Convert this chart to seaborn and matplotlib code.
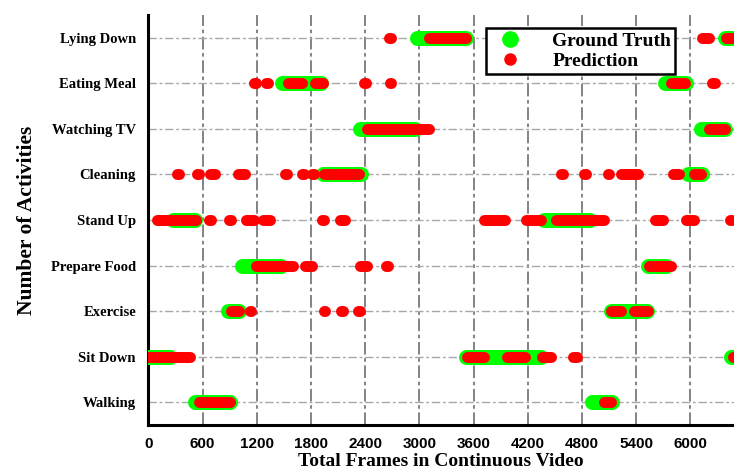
import numpy as np
import pandas as pd
import seaborn as sns
import matplotlib.pyplot as plt
from matplotlib.lines import Line2D
from matplotlib.ticker import MultipleLocator

# activities from bottom (1) to top (9)
activities = ["Walking", "Sit Down", "Exercise", "Prepare Food", "Stand Up",
              "Cleaning", "Watching TV", "Eating Meal", "Lying Down"]

# ground truth segments (start frame, end frame)
gt_walking = [(515, 900), (4915, 5135)]
gt_sitdown = [(-100, 235), (3515, 4345), (6450, 6600)]
gt_exercise = [(885, 1005), (5120, 5520)]
gt_prepare = [(1035, 1470), (5535, 5735)]
gt_standup = [(275, 515), (4385, 4885)]
gt_cleaning = [(1935, 2350), (5975, 6130)]
gt_tv = [(2340, 2950), (6120, 6380)]
gt_eating = [(1480, 1915), (5715, 5950)]
gt_lying = [(2975, 3520), (6380, 6600)]

# predicted segments (start frame, end frame)
pred_walking = [(555, 905), (5045, 5125)]
pred_sitdown = [(-50, 465), (3525, 3715), (3965, 4165), (4355, 4455),
                (4700, 4750), (6470, 6600)]
pred_exercise = [(910, 1005), (1120, 1135), (1940, 1960), (2135, 2155),
                 (2325, 2345), (5125, 5230), (5375, 5530)]
pred_prepare = [(1190, 1595), (1730, 1810), (2340, 2425), (2630, 2650),
                (5540, 5790)]
pred_standup = [(90, 525), (670, 690), (895, 915), (1075, 1170), (1270, 1345),
                (1925, 1945), (2125, 2180), (3720, 3950), (4180, 4345),
                (4510, 5045), (5610, 5695), (5955, 6040), (6440, 6460)]
pred_cleaning = [(320, 340), (535, 555), (680, 735), (990, 1065), (1515, 1535),
                 (1700, 1720), (1810, 1830), (1945, 2330), (4570, 4590),
                 (4825, 4845), (5085, 5105), (5230, 5425), (5805, 5880),
                 (6040, 6120)]
pred_tv = [(2425, 3110), (6205, 6380)]
pred_eating = [(1170, 1190), (1300, 1320), (1545, 1695), (1840, 1930),
               (2390, 2410), (2670, 2690), (5790, 5945), (6235, 6275)]
pred_lying = [(2660, 2685), (3110, 3515), (6130, 6205), (6400, 6600)]

gt_all = [gt_walking, gt_sitdown, gt_exercise, gt_prepare, gt_standup,
          gt_cleaning, gt_tv, gt_eating, gt_lying]
pred_all = [pred_walking, pred_sitdown, pred_exercise, pred_prepare, pred_standup,
            pred_cleaning, pred_tv, pred_eating, pred_lying]

x_ticks = [0, 600, 1200, 1800, 2400, 3000, 3600, 4200, 4800, 5400, 6000]


def to_frame(rows):
    # long form table, one unit per segment
    recs = []
    seg = 0
    for level, segs in enumerate(rows, start=1):
        for s, e in segs:
            recs.append((s, level, seg))
            recs.append((e, level, seg))
            seg += 1
    return pd.DataFrame(recs, columns=["frame", "activity", "seg"])


df_gt = to_frame(gt_all)
df_pred = to_frame(pred_all)

sns.set_style("white")
plt.rcParams['font.family'] = ['Liberation Serif', 'DejaVu Serif']
plt.rcParams['text.color'] = 'black'
plt.rcParams['axes.labelcolor'] = 'black'
plt.rcParams['xtick.color'] = 'black'
plt.rcParams['ytick.color'] = 'black'

fig = plt.figure(figsize=(7.34, 4.73), dpi=100)
ax = fig.add_axes([0.2023, 0.1015, 0.7977, 0.8668])

sns.lineplot(data=df_gt, x="frame", y="activity", units="seg", estimator=None,
             sort=False, color="#00ff00", linewidth=10.8,
             solid_capstyle="round", ax=ax, zorder=3)
sns.lineplot(data=df_pred, x="frame", y="activity", units="seg", estimator=None,
             sort=False, color="#ff0000", linewidth=7.9,
             solid_capstyle="round", ax=ax, zorder=4)

ax.set_xlim(0, 6484)
ax.set_ylim(0.5, 9.5)
ax.set_xticks(x_ticks)
ax.set_xticklabels([str(t) for t in x_ticks], fontfamily="Liberation Sans",
                   fontweight="bold", fontsize=11)
ax.xaxis.set_minor_locator(MultipleLocator(300))
ax.set_yticks(range(1, 10))
ax.set_yticklabels(activities, fontweight="bold", fontsize=10.5)
ax.set_yticks(np.arange(0.5, 10, 1.0), minor=True)

ax.tick_params(axis="both", which="major", direction="out", length=6, width=1.6,
               color="black", pad=3)
ax.tick_params(axis="both", which="minor", direction="out", length=3.5, width=1.6,
               color="black")

ax.grid(False)
for t in x_ticks[1:]:
    ax.axvline(t, color="#7a7a7a", linewidth=1.3, linestyle=(0, (7, 2, 2, 2)), zorder=1)
for lv in range(1, 10):
    ax.axhline(lv, color="#a8a8a8", linewidth=1.0, linestyle=(0, (6, 2, 2, 2)), zorder=1)

for side in ["top", "right"]:
    ax.spines[side].set_visible(False)
for side in ["left", "bottom"]:
    ax.spines[side].set_linewidth(2.2)
    ax.spines[side].set_color("black")

ax.set_xlabel("Total Frames in Continuous Video", fontweight="bold", fontsize=14,
              labelpad=1)
ax.set_ylabel("Number of Activities", fontweight="bold", fontsize=15.5)
ax.yaxis.set_label_coords(-0.19, 0.5)

handles = [
    Line2D([], [], linestyle="none", marker="o", markersize=11,
           markerfacecolor="#00ff00", markeredgecolor="#00ff00"),
    Line2D([], [], linestyle="none", marker="o", markersize=8,
           markerfacecolor="#ff0000", markeredgecolor="#ff0000"),
]
leg = ax.legend(handles, ["Ground Truth", "Prediction"], loc="upper left",
                bbox_to_anchor=(0.577, 0.968), fancybox=False, framealpha=1,
                edgecolor="black", prop={"weight": "bold", "size": 14},
                handletextpad=1.2, borderpad=0.2, labelspacing=0.15,
                handlelength=2.0, borderaxespad=0.0)
leg.get_frame().set_linewidth(1.8)
leg.set_zorder(10)

fig.savefig("out.png", dpi=100)
